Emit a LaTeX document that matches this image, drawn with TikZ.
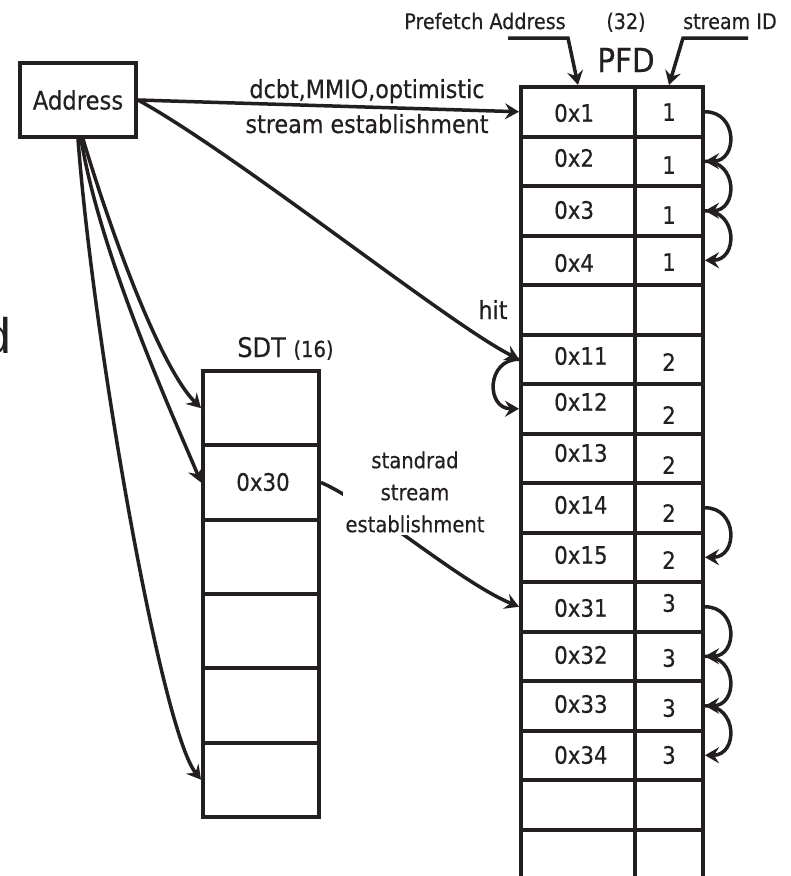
\documentclass[tikz,border=0pt]{standalone}
\usepackage{fontspec}
\setmainfont{DejaVu Sans}[FakeStretch=0.89, FakeBold=0.4]
\newfontfamily\widesans{Liberation Sans}
\usetikzlibrary{arrows.meta}
\definecolor{ink}{RGB}{35,31,32}

\begin{document}
\begin{tikzpicture}[x=1pt,y=-1pt,
  every node/.style={text=ink},
  cellbox/.style={draw=ink, line width=4pt, inner sep=0pt, minimum height=49.5pt},
  acell/.style={cellbox, minimum width=114pt},
  icell/.style={cellbox, minimum width=68pt},
  sdtcell/.style={draw=ink, line width=4pt, inner sep=0pt, minimum width=116pt,
                  minimum height=74.3pt, font=\fontsize{24}{28}\selectfont},
  ctext/.style={inner sep=0pt, font=\fontsize{24}{28}\selectfont},
  toplbl/.style={inner sep=0pt, font=\fontsize{21.5}{24}\selectfont},
  midlbl/.style={inner sep=0pt, font=\fontsize{25}{28}\selectfont},
  conn/.style={draw=ink, line width=3.5pt,
               -{Stealth[length=14pt,width=16pt,inset=5pt]}}]

% page area
\fill[white] (0,0) rectangle (791,876);
\useasboundingbox (0,0) rectangle (791,876);

% fragment of a letter at the left edge
\node[anchor=base west, inner sep=0pt, font=\widesans\fontsize{50}{50}\selectfont] (frag) at (-17,353) {d};

% Address box
\node[draw=ink, line width=4pt, minimum width=116pt, minimum height=74pt, inner sep=0pt,
      font=\fontsize{25.5}{28}\selectfont] (addr) at (78,100) {Address};

% PFD table: address column and stream-ID column
\foreach \k in {1,...,16} {
  \node[acell] (a\k) at (578,{87+49.5*(\k-0.5)}) {};
  \node[icell] (i\k) at (669,{87+49.5*(\k-0.5)}) {};
}

% PFD entries
\foreach \k/\t/\y in {1/0x1/113, 2/0x2/158, 3/0x3/210, 4/0x4/263, 6/0x11/356,
                      7/0x12/402, 8/0x13/453, 9/0x14/505, 10/0x15/555,
                      11/0x31/608, 12/0x32/655, 13/0x33/704, 14/0x34/755}
  \node[ctext, anchor=west] (ta\k) at (554,\y) {\t};
\foreach \k/\t/\y in {1/1/112, 2/1/165, 3/1/215, 4/1/262, 6/2/362, 7/2/415,
                      8/2/465, 9/2/513, 10/2/560, 11/3/603, 12/3/658,
                      13/3/708, 14/3/755}
  \node[ctext] (ti\k) at (669,\y) {\t};

% SDT table
\foreach \k in {1,...,6}
  \node[sdtcell] (s\k) at (261,{371+74.3*(\k-0.5)}) {};
\node[ctext] (s2txt) at (263,482) {0x30};

% headings
\node[toplbl, anchor=base] (pfa) at (485,29) {Prefetch Address};
\node[toplbl, anchor=base] (n32) at (626,29) {(32)};
\node[toplbl, anchor=base] (sid) at (730,29) {stream ID};
\node[inner sep=0pt, anchor=base, font=\fontsize{33}{36}\selectfont] (pfd) at (626,72) {PFD};
\node[inner sep=0pt, anchor=base, font=\fontsize{27}{30}\selectfont] (sdt) at (285.5,357)
  {SDT {\fontsize{22}{24}\selectfont(16)}};

% pointers from the headings into the table
\coordinate (pfL) at (508,38);
\coordinate (pfR) at (568,38);
\draw[conn] (pfL) -- (pfR) -- (a1.north);
\coordinate (sidR) at (748,38);
\coordinate (sidL) at (683,38);
\draw[conn] (sidR) -- (sidL) -- (i1.north);

% lookups from the address
\draw[conn] (addr.east) -- (a1.west);
\node[midlbl, anchor=base] (optl1) at (367,98) {dcbt,MMIO,optimistic};
\node[midlbl, anchor=base] (optl2) at (367,133) {stream establishment};

\draw[conn] (addr.east) .. controls +(100,55) and +(-70,-35) .. (a6.west);
\node[midlbl, anchor=base] (hit) at (493,319) {hit};

\draw[conn] ([xshift=5pt]addr.south) .. controls +(30,100) and +(-40,-40) .. (s1.west);
\draw[conn] ([xshift=3pt]addr.south) .. controls +(20,120) and +(-25,-60) .. (s2.west);
\draw[conn] (addr.south) .. controls +(15,200) and +(-40,-50) .. (s6.west);

% standard stream establishment from the SDT into the PFD
\draw[conn] (s2.east) .. controls +(50,22) and +(-60,-25) .. (a11.west);
\node[fill=white, inner sep=2pt, align=center, font=\fontsize{22}{32}\selectfont] (std) at (415,492)
  {standrad\\stream\\establishment};

% stream chaining links
\foreach \p/\q in {1/2, 2/3, 3/4, 9/10, 11/12, 12/13, 13/14}
  \draw[conn] (i\p.east) .. controls +(33,0) and +(33,0) .. (i\q.east);
\draw[conn] (a6.west) .. controls +(-33,0) and +(-33,0) .. (a7.west);

\end{tikzpicture}
\end{document}
